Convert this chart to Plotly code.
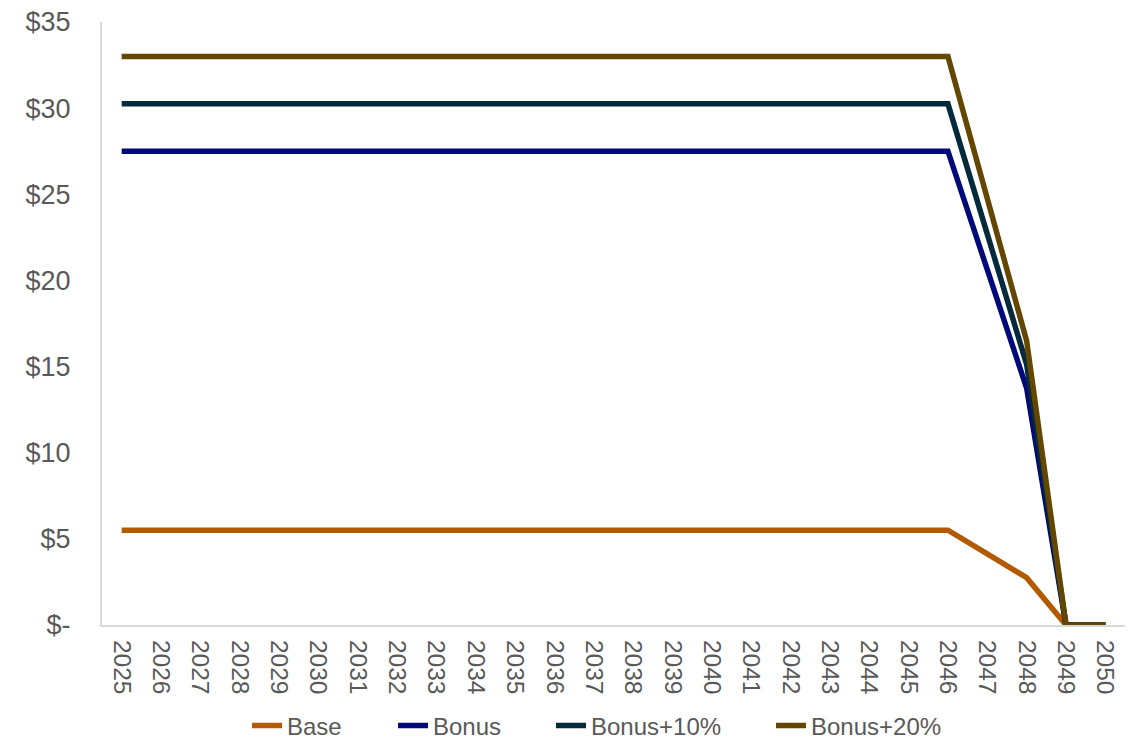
import plotly.graph_objects as go

years = [str(y) for y in range(2025, 2051)]
base = [5.5]*22 + [4.125, 2.75, 0, 0]
bonus = [27.5]*22 + [20.625, 13.75, 0, 0]
bonus10 = [30.25]*22 + [22.69, 15.125, 0, 0]
bonus20 = [33.0]*22 + [24.75, 16.5, 0, 0]

series = [
    ("Base", base, "#B35900"),
    ("Bonus", bonus, "#000A78"),
    ("Bonus+10%", bonus10, "#042A3B"),
    ("Bonus+20%", bonus20, "#634600"),
]

ytick_vals = [0, 5, 10, 15, 20, 25, 30, 35]
ytick_text = ["$-", "$5", "$10", "$15", "$20", "$25", "$30", "$35"]

# legend item start positions (page pixels)
legend_px = [252, 398, 556, 776]
legend_py = 726

W, H = 1134, 741
L, R, T, B = 102, 9, 22, 116
pw = W - L - R
ph = H - T - B

fig = go.Figure()
legend_keys = ["legend", "legend2", "legend3", "legend4"]
for (name, vals, color), lk in zip(series, legend_keys):
    fig.add_trace(go.Scatter(x=years, y=vals, name=name, mode="lines",
                             line=dict(color=color, width=5.5), legend=lk))

font = "Liberation Sans, Arial, sans-serif"
layout = dict(
    width=W, height=H,
    margin=dict(l=L, r=R, t=T, b=B, autoexpand=False),
    plot_bgcolor="white", paper_bgcolor="white",
    font=dict(family=font, color="#595959", size=24),
    showlegend=True,
    xaxis=dict(type="category", range=[-0.5, 25.5], tickangle=90,
               showline=True, linecolor="#D9D9D9", linewidth=2,
               showgrid=False, ticks="", tickfont=dict(size=24.5),
               ticklabelstandoff=8, automargin=False),
    yaxis=dict(range=[0, 35], tickvals=ytick_vals, ticktext=ytick_text,
               showline=True, linecolor="#D9D9D9", linewidth=2,
               showgrid=False, zeroline=False, ticks="", ticklabelstandoff=24,
               tickfont=dict(size=27), automargin=False),
)
for lk, px in zip(legend_keys, legend_px):
    layout[lk] = dict(orientation="h", x=(px - 5 - L) / pw, xanchor="left",
                      y=(T + ph - legend_py) / ph, yanchor="middle",
                      font=dict(size=24, color="#595959"),
                      bgcolor="rgba(0,0,0,0)", borderwidth=0)
fig.update_layout(**layout)
fig.write_html("out.html", config={"displayModeBar": False},
               post_script="document.body.style.margin='0';document.body.style.padding='0';")
